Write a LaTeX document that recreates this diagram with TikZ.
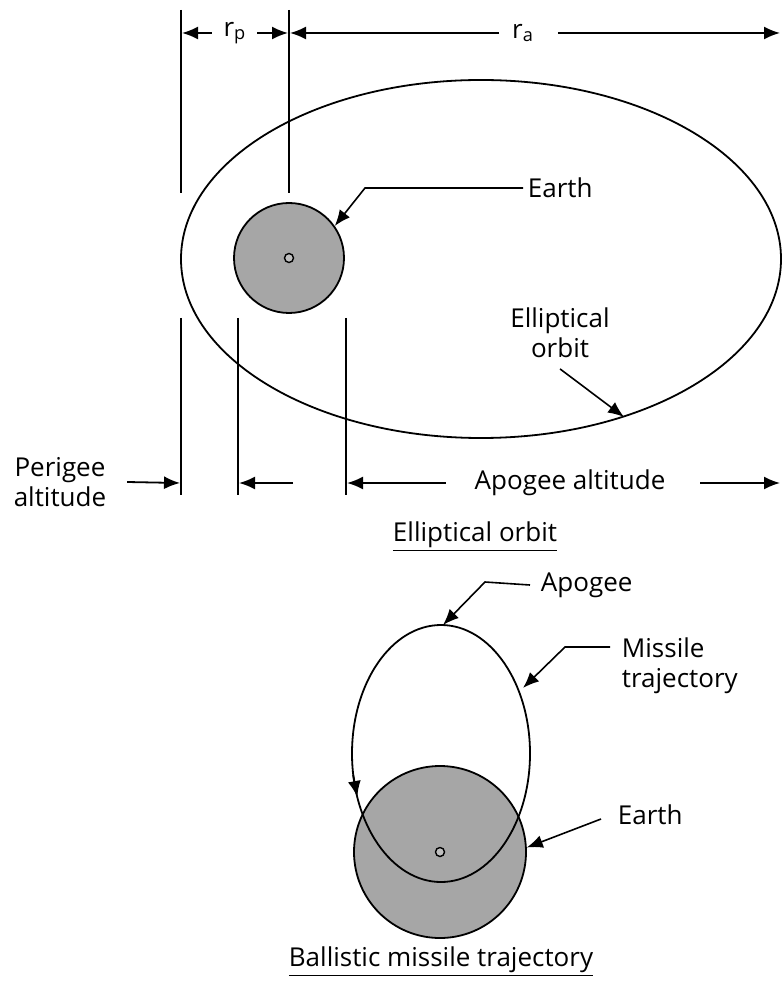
\documentclass[tikz,border=0pt]{standalone}
\usepackage{fontspec}
\setmainfont{Open Sans}
\usetikzlibrary{arrows.meta,positioning}

\begin{document}
\begin{tikzpicture}[
    x=0.5pt, y=-0.5pt,
    line width=0.9pt,
    >={Latex[length=8pt,width=6.5pt]},
    every node/.style={font=\fontsize{13}{15}\selectfont, inner sep=0pt},
    planet/.style={draw, circle, fill=black!35},
    core/.style={draw, circle, fill=black!25, minimum size=4.5pt, line width=0.7pt},
    leader/.style={->, line width=0.8pt}
]
\useasboundingbox (0,0) rectangle (782,983);

% elliptical orbit
\draw (481,259) ellipse [x radius=300, y radius=179];
\node[planet, minimum size=55pt] (earth) at (289,258) {};
\node[core] (center) at (earth) {};

\draw (181,10) -- (181,193);
\draw (289,10) -- (289,193);
\draw (181,318) -- (181,495);
\draw (238,318) -- (238,495);
\draw (346,318) -- (346,495);

\coordinate (tl) at (182,33);
\coordinate (tm) at (288,33);
\coordinate (tm2) at (290,33);
\coordinate (tr) at (780,33);
\coordinate (bl) at (180,483);
\coordinate (bm) at (239,483);
\coordinate (bm2) at (293,483);
\coordinate (br) at (347,483);
\coordinate (bend) at (780,483);
\coordinate (orbittip) at (624,417);

\node (rp) at (235,33) {r\textsubscript{p}};
\node (ra) at (523,33) {r\textsubscript{a}};
\draw[->] ([xshift=-5.5pt]rp.west) -- (tl);
\draw[->] ([xshift=5pt]rp.east) -- (tm);
\draw[->] ([xshift=-6pt]ra.west) -- (tm2);
\draw[->] ([xshift=11.5pt]ra.east) -- (tr);

\node[align=center] (perigee) at (60,482) {Perigee\\altitude};
\node (apalt) at (570,483) {Apogee altitude};
\draw[->] ([xshift=10pt]perigee.east) -- (bl);
\draw[->] (bm2) -- (bm);
\draw[->] ([xshift=-14pt]apalt.west) -- (br);
\draw[->] ([xshift=17pt]apalt.east) -- (bend);

\node[anchor=west] (earthlbl) at (527,188) {Earth};
\draw[leader] ([xshift=-2pt]earthlbl.west) -- (365,188) -- (earth.35);

\node[align=center] (orbitlbl) at (560,333) {Elliptical\\orbit};
\draw[leader] ([yshift=-5pt]orbitlbl.south) -- (orbittip);

\node (title1) at (475,537) {\underline{Elliptical orbit}};

% ballistic trajectory
\node[planet, minimum size=86pt] (earthb) at (440,852) {};
\node[core] (centerb) at (earthb) {};
\draw (441,753.5) ellipse [x radius=89, y radius=128.5];
\coordinate (fall) at (353.2,775);
\coordinate (entry) at (357.3,797);
\draw[->] (fall) -- (entry);

\coordinate (apex) at (443,625);
\coordinate (trajtip) at (523,688);
\coordinate (trajlead) at (610,647);

\node[anchor=west] (apogee) at (540,585) {Apogee};
\draw[leader] ([xshift=-5pt]apogee.west) -- (485,582) -- (apex);

\node[anchor=west, align=left] (trajlbl) at (621,666) {Missile\\trajectory};
\draw[leader] (trajlead) -- (565,647) -- (trajtip);

\node[anchor=west] (earthblbl) at (617,815) {Earth};
\draw[leader] ([xshift=-8pt,yshift=-2pt]earthblbl.west) -- (earthb.3);

\node (title2) at (441,962) {\underline{Ballistic missile trajectory}};
\end{tikzpicture}
\end{document}
